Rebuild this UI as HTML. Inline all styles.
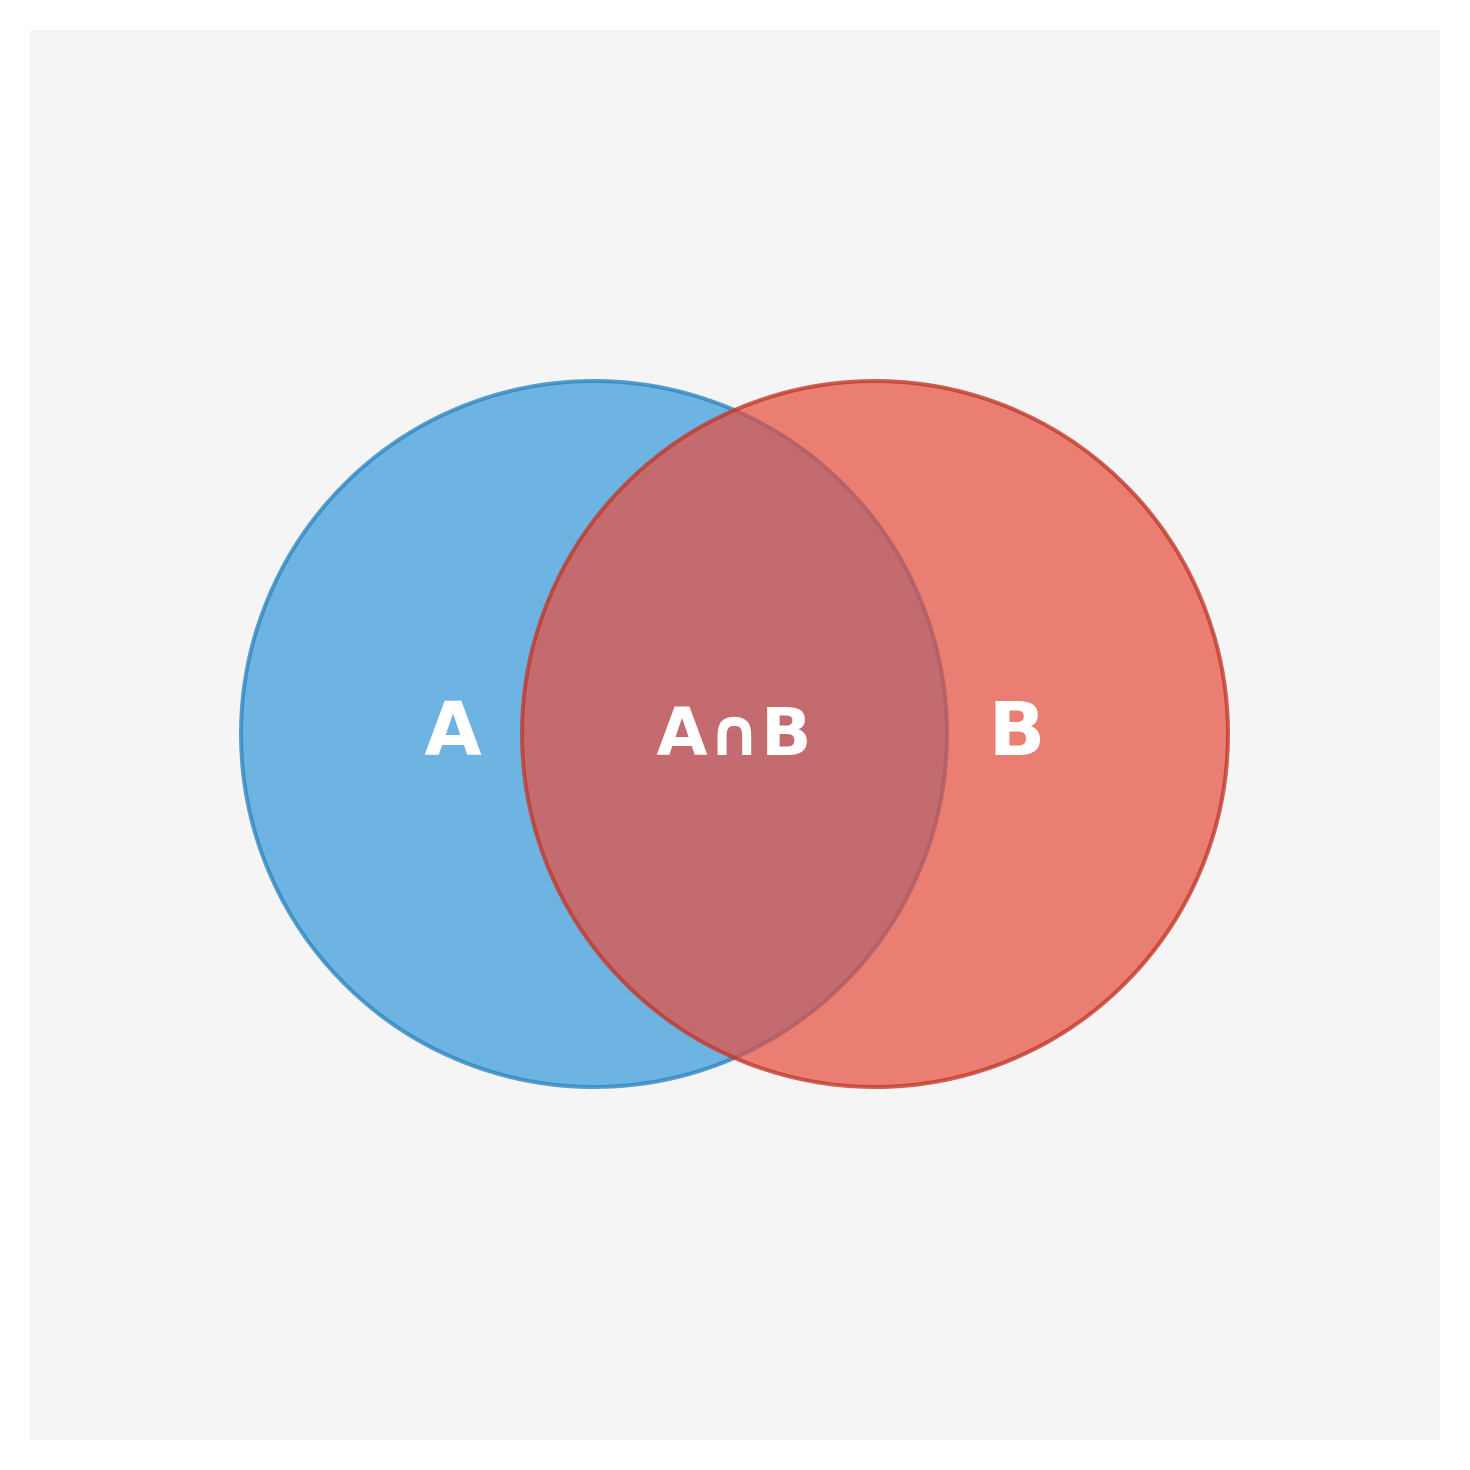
<!DOCTYPE html>
<html><head><meta charset="utf-8"><style>
html,body{margin:0;padding:0;background:#fff;}
svg{display:block;}
text{font-family:"DejaVu Sans","Liberation Sans",sans-serif;font-weight:bold;fill:#fff;}
</style></head><body>
<svg id="chart" width="1470" height="1470" viewBox="0 0 1470 1470">
<rect x="30" y="30" width="1410" height="1410" fill="#f5f5f5"/>
<g id="sets"></g>
<g id="labels"></g>
</svg>
<script>
const setNames = ["A", "B"];
const setCentersX = [594, 875];
const setCenterY = [734, 734];
const setRadius = [353, 353];
const fills = ["#3498db", "#e74c3c"];
const strokes = ["#2e86c1", "#c0392b"];
const labelNames = ["A", "A∩B", "B"];
const labelX = [453, 734, 1017];
const labelSizes = [74, 66, 74];

const ns = "http://www.w3.org/2000/svg";
const gs = document.getElementById("sets");
for (let i = 0; i < setNames.length; i++) {
  const c = document.createElementNS(ns, "circle");
  c.setAttribute("cx", setCentersX[i]);
  c.setAttribute("cy", setCenterY[i]);
  c.setAttribute("r", setRadius[i]);
  c.setAttribute("fill", fills[i]);
  c.setAttribute("fill-opacity", "0.7");
  c.setAttribute("stroke", strokes[i]);
  c.setAttribute("stroke-opacity", "0.8");
  c.setAttribute("stroke-width", "4");
  
  
  gs.appendChild(c);
}
const gl = document.getElementById("labels");
for (let i = 0; i < labelNames.length; i++) {
  const t = document.createElementNS(ns, "text");
  t.setAttribute("x", labelX[i]);
  t.setAttribute("y", 755);
  t.setAttribute("text-anchor", "middle");
  t.setAttribute("font-size", labelSizes[i]);
  t.textContent = labelNames[i];
  
  
  gl.appendChild(t);
}
</script>
</body></html>
